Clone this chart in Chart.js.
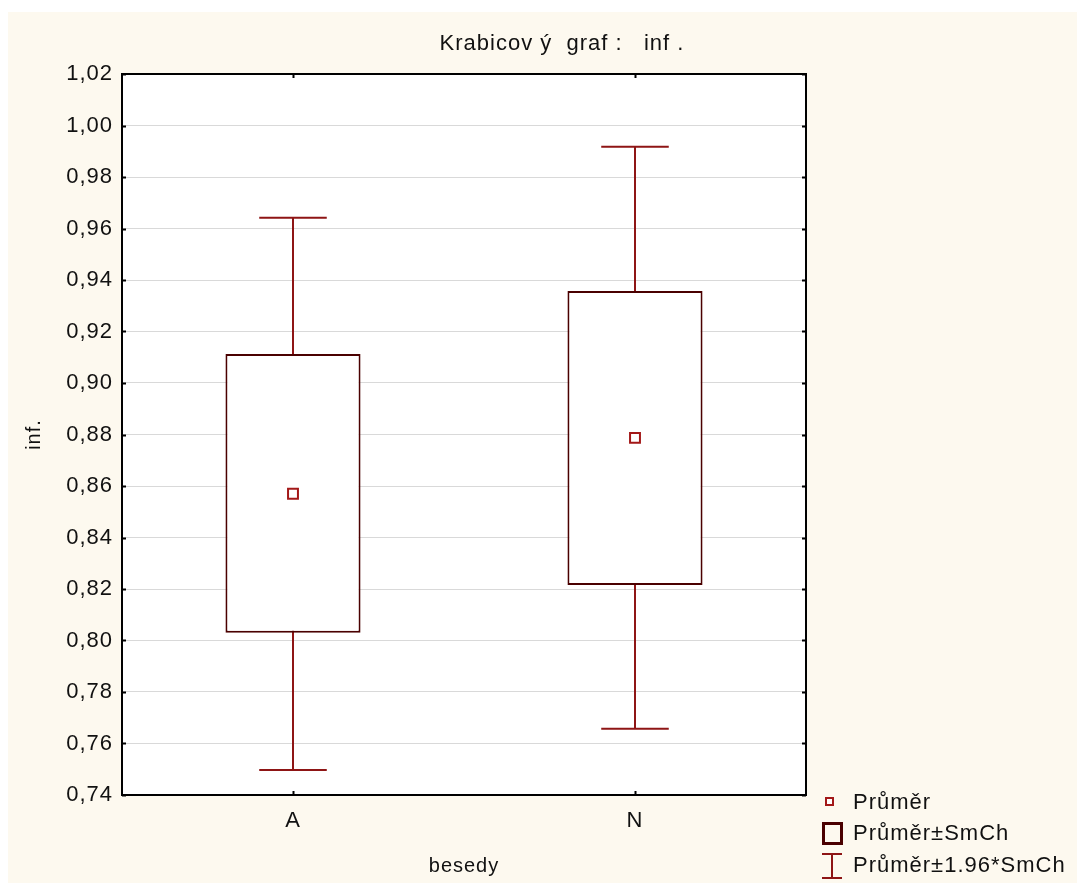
<!DOCTYPE html>
<html>
<head>
<meta charset="utf-8">
<script src="https://cdn.jsdelivr.net/npm/chart.js@4"></script>
<style>
  body { margin: 0; background: #ffffff; }
  #wrap { position: absolute; left: 8px; top: 12px; width: 1069px; height: 871px; background: #fdf9ef; }
</style>
</head>
<body>
<div id="wrap"><canvas id="chart" width="1069" height="871"></canvas></div>
<script>
// values
const categories = ["A", "N"];
const means = [0.857, 0.8787];
const seLow = [0.803, 0.8216];
const seHigh = [0.9113, 0.9357];
const ciLow = [0.7497, 0.7657];
const ciHigh = [0.9642, 0.9917];
const yTickValues = [0.74, 0.76, 0.78, 0.80, 0.82, 0.84, 0.86, 0.88, 0.90, 0.92, 0.94, 0.96, 0.98, 1.00, 1.02];

const titleText = "Krabicov ý  graf :   inf .";
const legendItems = ["Průměr", "Průměr±SmCh", "Průměr±1.96*SmCh"];

const boxLine = "#4a0000";
const whiskerLine = "#8e1515";
const meanLine = "#a31818";

Chart.defaults.font.family = '"Liberation Sans", Arial, sans-serif';
Chart.defaults.font.size = 22;
Chart.defaults.color = "#111111";

// whiskers, frame, inward ticks, title and legend
const boxExtras = {
  id: "boxExtras",
  beforeDraw(chart) {
    const { ctx, chartArea: a } = chart;
    ctx.letterSpacing = "1px";
    ctx.save();
    ctx.fillStyle = "#ffffff";
    ctx.fillRect(a.left, a.top, a.right - a.left, a.bottom - a.top);
    ctx.restore();
  },
  beforeDatasetsDraw(chart) {
    const { ctx, scales: { x, y } } = chart;
    const bar = chart.getDatasetMeta(0).data[0];
    const cap = bar ? bar.width / 2 : 60;
    ctx.save();
    ctx.strokeStyle = whiskerLine;
    ctx.lineWidth = 2;
    categories.forEach((c, i) => {
      const px = Math.round(x.getPixelForValue(i));
      const top = y.getPixelForValue(ciHigh[i]);
      const bot = y.getPixelForValue(ciLow[i]);
      ctx.beginPath();
      ctx.moveTo(px, top); ctx.lineTo(px, bot);
      ctx.moveTo(px - cap / 2, top); ctx.lineTo(px + cap / 2, top);
      ctx.moveTo(px - cap / 2, bot); ctx.lineTo(px + cap / 2, bot);
      ctx.stroke();
    });
    ctx.restore();
  },
  afterDraw(chart) {
    const { ctx, chartArea: a, scales: { x, y } } = chart;
    ctx.save();
    // frame
    ctx.strokeStyle = "#000000";
    ctx.lineWidth = 2;
    ctx.strokeRect(a.left, a.top, a.right - a.left, a.bottom - a.top);
    // inward tick marks
    ctx.beginPath();
    y.ticks.forEach(t => {
      const py = Math.round(y.getPixelForValue(t.value)) + 0.5;
      ctx.moveTo(a.left, py); ctx.lineTo(a.left + 4, py);
      ctx.moveTo(a.right, py); ctx.lineTo(a.right - 4, py);
    });
    categories.forEach((c, i) => {
      const px = Math.round(x.getPixelForValue(i)) + 0.5;
      ctx.moveTo(px, a.top); ctx.lineTo(px, a.top + 4);
      ctx.moveTo(px, a.bottom); ctx.lineTo(px, a.bottom - 4);
    });
    ctx.stroke();

    // title
    ctx.fillStyle = "#111111";
    ctx.font = '22px "Liberation Sans", Arial, sans-serif';
    ctx.textAlign = "center";
    ctx.textBaseline = "middle";
    ctx.fillText(titleText, 554, 32);

    // legend
    const tx = 845, rows = [790, 821, 853];
    ctx.textAlign = "left";
    rows.forEach((ry, k) => ctx.fillText(legendItems[k], tx, ry + 1));
    ctx.lineWidth = 2;
    ctx.strokeStyle = meanLine;
    ctx.fillStyle = "#ffffff";
    ctx.fillRect(818, rows[0] - 4, 7, 7);
    ctx.strokeRect(818, rows[0] - 4, 7, 7);
    ctx.strokeStyle = boxLine;
    ctx.lineWidth = 3;
    ctx.strokeRect(815.5, rows[1] - 9.5, 18, 20);
    ctx.strokeStyle = whiskerLine;
    ctx.lineWidth = 2;
    ctx.beginPath();
    ctx.moveTo(814, rows[2] - 11); ctx.lineTo(834, rows[2] - 11);
    ctx.moveTo(824, rows[2] - 11); ctx.lineTo(824, rows[2] + 13);
    ctx.moveTo(814, rows[2] + 13); ctx.lineTo(834, rows[2] + 13);
    ctx.stroke();
    ctx.restore();
  }
};

new Chart(document.getElementById("chart"), {
  data: {
    labels: categories,
    datasets: [
      {
        type: "bar",
        label: "Průměr±SmCh",
        data: categories.map((c, i) => [seLow[i], seHigh[i]]),
        backgroundColor: "#ffffff",
        borderColor: boxLine,
        borderWidth: 2,
        borderSkipped: false,
        barPercentage: 0.395,
        categoryPercentage: 1,
        order: 1
      },
      {
        type: "line",
        label: "Průměr",
        data: means,
        showLine: false,
        pointStyle: "rect",
        pointRadius: 7,
        pointBorderWidth: 2,
        pointBorderColor: meanLine,
        pointBackgroundColor: "#ffffff",
        order: 0
      }
    ]
  },
  options: {
    responsive: false,
    animation: false,
    layout: { padding: { top: 62, right: 271, left: 0, bottom: 0 } },
    plugins: {
      legend: { display: false },
      tooltip: { enabled: false }
    },
    scales: {
      x: {
        grid: { display: false },
        border: { display: false },
        ticks: { padding: 5, color: "#111111" },
        title: { display: true, text: "besedy", font: { size: 20 }, padding: { top: 0, bottom: 5 }, color: "#111111" },
        afterFit(scale) { scale.height = 88; }
      },
      y: {
        min: 0.74,
        max: 1.02,
        grid: { color: "#d9d9d9", lineWidth: 1, drawTicks: false },
        border: { display: false },
        ticks: {
          padding: 9,
          color: "#111111",
          callback: v => v.toFixed(2).replace(".", ",")
        },
        afterBuildTicks(scale) { scale.ticks = yTickValues.map(v => ({ value: v })); },
        title: { display: true, text: "inf.", font: { size: 20 }, padding: { top: 14, bottom: 0 }, color: "#111111" },
        afterFit(scale) { scale.width = 114; }
      }
    }
  },
  plugins: [boxExtras]
});
</script>
</body>
</html>
